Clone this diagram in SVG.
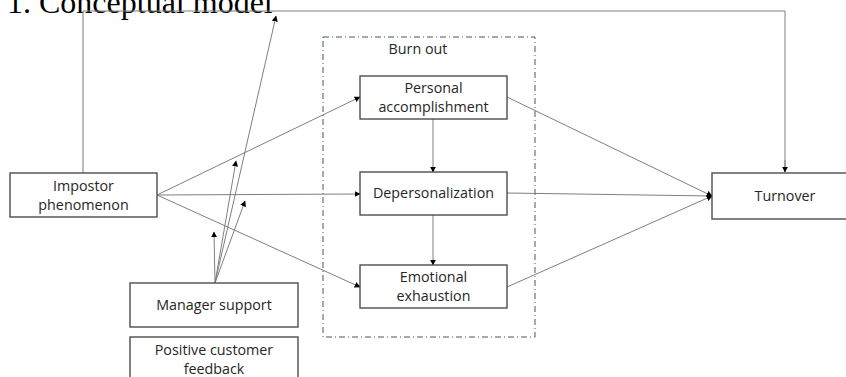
<svg xmlns="http://www.w3.org/2000/svg" width="846" height="377" viewBox="0 0 846 377">
<style>
.box{fill:#fff;stroke:#404040;stroke-width:1.3}
.t{font-family:"Open Sans","Noto Sans",sans-serif;font-size:14.3px;fill:#262626;text-anchor:middle}
.c{fill:none;stroke:#7f7f7f;stroke-width:1}
.a{marker-end:url(#ah)}
</style>
<defs>
<marker id="ah" viewBox="0 0 10 10" refX="9" refY="5" markerWidth="6" markerHeight="6" markerUnits="userSpaceOnUse" orient="auto">
<path d="M0,0 L10,5 L0,10 z" fill="#000"/>
</marker>
</defs>
<rect width="846" height="377" fill="#fff"/>
<text x="7" y="13" font-family="Liberation Serif, serif" font-size="32" fill="#000">1. Conceptual model</text>
<g id="burnout">
<rect x="323" y="37" width="212" height="300" fill="none" stroke="#44546a" stroke-width="1" stroke-dasharray="6,3,1,3"/>
<text class="t" x="418" y="54">Burn out</text>
</g>
<g id="connectors">
<polyline class="c" points="83,173 83,11 785,11 785,172" />
<path class="c a" d="M785,160 L785,172"/>
<path class="c a" d="M157,195 L360,97"/>
<path class="c a" d="M157,195 L360,194"/>
<path class="c a" d="M157,195 L360,287"/>
<path class="c a" d="M433,119 L433,172"/>
<path class="c a" d="M433,215 L433,265"/>
<path class="c a" d="M507,97 L712,196"/>
<path class="c a" d="M507,193 L712,196"/>
<path class="c a" d="M507,287 L712,196"/>
<path class="c a" d="M215,283 L214,232"/>
<path class="c a" d="M215,283 L236,161"/>
<path class="c a" d="M215,283 L245,201"/>
<path class="c a" d="M215,283 L276,16"/>
</g>
<g id="impostor">
<rect class="box" x="10" y="173" width="147" height="44"/>
<text class="t" x="83.5" y="191">Impostor</text>
<text class="t" x="83.5" y="210">phenomenon</text>
</g>
<g id="manager">
<rect class="box" x="130" y="283" width="168" height="44"/>
<text class="t" x="214" y="310">Manager support</text>
</g>
<g id="feedback">
<rect class="box" x="130" y="337" width="168" height="50"/>
<text class="t" x="214" y="355">Positive customer</text>
<text class="t" x="214" y="374">feedback</text>
</g>
<g id="personal">
<rect class="box" x="360" y="76" width="147" height="43"/>
<text class="t" x="433.5" y="93">Personal</text>
<text class="t" x="433.5" y="112">accomplishment</text>
</g>
<g id="depersonalization">
<rect class="box" x="360" y="172" width="147" height="43"/>
<text class="t" x="433.5" y="198">Depersonalization</text>
</g>
<g id="emotional">
<rect class="box" x="360" y="265" width="147" height="43"/>
<text class="t" x="433.5" y="282">Emotional</text>
<text class="t" x="433.5" y="301">exhaustion</text>
</g>
<g id="turnover">
<rect class="box" x="712" y="173" width="140" height="46"/>
<text class="t" x="785" y="201">Turnover</text>
</g>
</svg>
